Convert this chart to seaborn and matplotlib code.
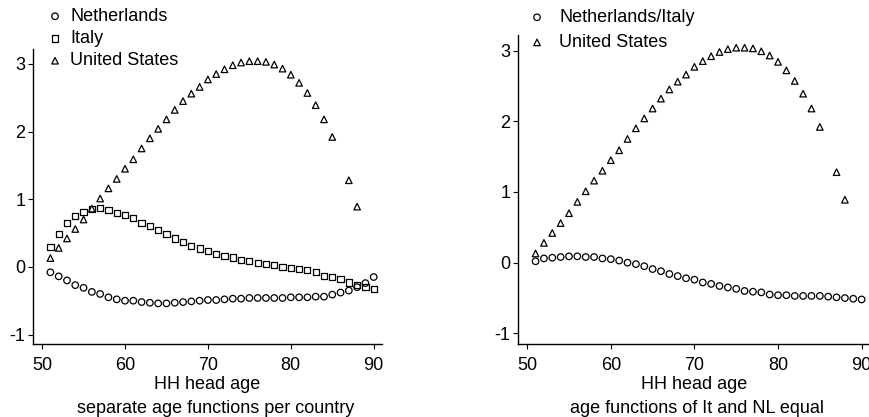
import numpy as np
import pandas as pd
import matplotlib
matplotlib.use("Agg")
import matplotlib.pyplot as plt
import seaborn as sns

# ages 51..90
ages = list(range(51, 91))

nl_sep = [-0.08, -0.14, -0.20, -0.27, -0.31, -0.37, -0.40, -0.45, -0.48, -0.50,
          -0.50, -0.52, -0.53, -0.54, -0.54, -0.53, -0.52, -0.51, -0.50, -0.49,
          -0.49, -0.48, -0.47, -0.47, -0.46, -0.46, -0.46, -0.46, -0.46, -0.45,
          -0.45, -0.45, -0.44, -0.44, -0.41, -0.38, -0.35, -0.30, -0.24, -0.15]

it_sep = [0.29, 0.49, 0.65, 0.75, 0.81, 0.85, 0.87, 0.84, 0.80, 0.77,
          0.72, 0.65, 0.60, 0.55, 0.48, 0.42, 0.37, 0.31, 0.27, 0.24,
          0.19, 0.16, 0.14, 0.10, 0.09, 0.06, 0.04, 0.03, 0.00, -0.02,
          -0.03, -0.05, -0.08, -0.13, -0.15, -0.18, -0.23, -0.27, -0.30, -0.33]

nlit_eq = [0.02, 0.06, 0.07, 0.08, 0.09, 0.09, 0.08, 0.08, 0.06, 0.05,
           0.03, 0.00, -0.02, -0.05, -0.09, -0.12, -0.16, -0.19, -0.22, -0.24,
           -0.28, -0.30, -0.33, -0.35, -0.37, -0.40, -0.41, -0.42, -0.45, -0.46,
           -0.46, -0.47, -0.47, -0.47, -0.47, -0.48, -0.49, -0.50, -0.51, -0.52]

# US estimates (no point at 86, none after 88)
us_ages = list(range(51, 86)) + [87, 88]
us_vals = [0.13, 0.28, 0.42, 0.56, 0.70, 0.86, 1.01, 1.16, 1.30, 1.45,
           1.59, 1.75, 1.90, 2.04, 2.18, 2.32, 2.45, 2.56, 2.66, 2.77,
           2.85, 2.92, 2.98, 3.02, 3.04, 3.04, 3.03, 2.99, 2.93, 2.84,
           2.72, 2.57, 2.39, 2.18, 1.92, 1.28, 0.89]

left_caption = "separate age functions per country"
right_caption = "age functions of It and NL equal"

sns.set_style("ticks")
plt.rcParams['font.family'] = ['Liberation Sans', 'DejaVu Sans']
plt.rcParams['axes.unicode_minus'] = False
plt.rcParams['text.color'] = 'black'
plt.rcParams['axes.labelcolor'] = 'black'
plt.rcParams['xtick.major.size'] = 3.5
plt.rcParams['ytick.major.size'] = 3.5
plt.rcParams['xtick.major.pad'] = 5.5
plt.rcParams['ytick.major.pad'] = 2

W, H = 869, 417
fig = plt.figure(figsize=(W / 100, H / 100), dpi=100)

def px_axes(x0, x1, y_top, y_bot):
    return fig.add_axes([x0 / W, 1 - y_bot / H, (x1 - x0) / W, (y_bot - y_top) / H])

ax1 = px_axes(33, 382, 49, 344)
ax2 = px_axes(518, 870, 35, 344)

mk = dict(facecolor="none", edgecolor="black", linewidth=0.9)

sns.scatterplot(x=ages, y=nl_sep, marker="o", s=22, ax=ax1, label="Netherlands", **mk)
sns.scatterplot(x=ages, y=it_sep, marker="s", s=20, ax=ax1, label="Italy", **mk)
sns.scatterplot(x=us_ages, y=us_vals, marker="^", s=22, ax=ax1, label="United States", **mk)

sns.scatterplot(x=ages, y=nlit_eq, marker="o", s=22, ax=ax2, label="Netherlands/Italy", **mk)
sns.scatterplot(x=us_ages, y=us_vals, marker="^", s=22, ax=ax2, label="United States", **mk)

for ax, cap, ylo, yhi, cx in [(ax1, left_caption, -1.14, 3.22, 216), (ax2, right_caption, -1.15, 3.22, 697)]:
    ax.set_xlim(48.9, 91.0)
    ax.set_ylim(ylo, yhi)
    ax.set_xticks([50, 60, 70, 80, 90])
    ax.set_yticks([-1, 0, 1, 2, 3])
    ax.tick_params(labelsize=13, colors="black")
    for s in ["left", "bottom"]:
        ax.spines[s].set_color("black")
        ax.spines[s].set_linewidth(1.0)
    sns.despine(ax=ax)
    ax.set_xlabel("HH head age", fontsize=13, labelpad=2, color="black")
    ax.set_ylabel("")
    fig.text(cx / W, 1 - 413 / H, cap, ha="center", va="baseline", fontsize=13, color="black")

ax1.legend(loc="upper left", bbox_to_anchor=(46 / W, 1 - 8 / H), bbox_transform=fig.transFigure,
           frameon=False, fontsize=13, handlelength=1.0, handletextpad=0.33,
           labelspacing=0.29, borderpad=0, borderaxespad=0, labelcolor="black")
ax2.legend(loc="upper left", bbox_to_anchor=(528 / W, 1 - 9 / H), bbox_transform=fig.transFigure,
           frameon=False, fontsize=13, handlelength=1.0, handletextpad=0.72,
           labelspacing=0.45, borderpad=0, borderaxespad=0, labelcolor="black")

fig.savefig("out.png", dpi=100)
